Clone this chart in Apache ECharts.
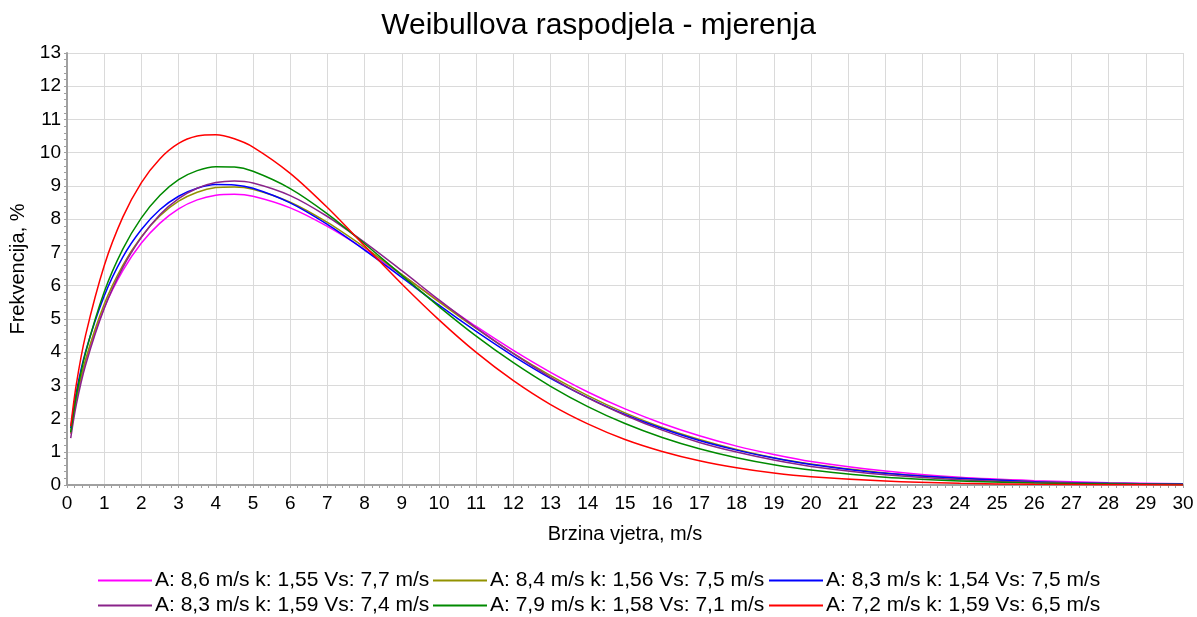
<!DOCTYPE html>
<html>
<head>
<meta charset="utf-8">
<title>Weibullova raspodjela - mjerenja</title>
<script src="https://cdn.jsdelivr.net/npm/echarts@6/dist/echarts.min.js"></script>
<style>
  html, body { margin: 0; padding: 0; background: #fff; }
  #chart { width: 1197px; height: 617px; }
</style>
</head>
<body>
<div id="chart"></div>
<script>
// Wind speed sample points (m/s)
const speeds = [0.1, 0.25, 0.5, 1, 1.5, 2, 2.5, 3, 3.5, 4, 4.5, 5, 6, 7, 8, 9, 10, 11, 12, 13, 14, 15, 16, 17, 18, 19, 20, 22, 24, 26, 28, 30];

// Frequency (%) for each measurement set
const magentaSet = [1.55, 2.56, 3.72, 5.33, 6.45, 7.28, 7.88, 8.31, 8.58, 8.72, 8.75, 8.69, 8.34, 7.78, 7.09, 6.32, 5.54, 4.77, 4.05, 3.39, 2.80, 2.29, 1.85, 1.48, 1.17, 0.92, 0.71, 0.42, 0.23, 0.13, 0.07, 0.035];
const oliveSet   = [1.55, 2.58, 3.78, 5.44, 6.61, 7.47, 8.10, 8.54, 8.81, 8.95, 8.97, 8.90, 8.51, 7.90, 7.15, 6.34, 5.51, 4.71, 3.96, 3.29, 2.69, 2.17, 1.73, 1.37, 1.07, 0.82, 0.63, 0.36, 0.20, 0.10, 0.05, 0.026];
const blueSet    = [1.71, 2.79, 4.02, 5.69, 6.86, 7.69, 8.29, 8.69, 8.93, 9.04, 9.03, 8.93, 8.49, 7.84, 7.07, 6.25, 5.41, 4.62, 3.88, 3.21, 2.63, 2.12, 1.70, 1.34, 1.05, 0.81, 0.62, 0.35, 0.20, 0.10, 0.05, 0.027];
const purpleSet  = [1.41, 2.42, 3.61, 5.31, 6.54, 7.45, 8.14, 8.62, 8.93, 9.10, 9.15, 9.09, 8.71, 8.08, 7.30, 6.45, 5.57, 4.73, 3.95, 3.24, 2.62, 2.10, 1.65, 1.28, 0.99, 0.75, 0.56, 0.31, 0.16, 0.08, 0.04, 0.018];
const greenSet   = [1.59, 2.69, 3.98, 5.81, 7.10, 8.04, 8.72, 9.19, 9.46, 9.58, 9.57, 9.44, 8.92, 8.16, 7.26, 6.31, 5.37, 4.48, 3.68, 2.97, 2.36, 1.85, 1.43, 1.09, 0.82, 0.61, 0.45, 0.23, 0.12, 0.06, 0.03, 0.012];
const redSet     = [1.77, 3.03, 4.51, 6.60, 8.06, 9.10, 9.82, 10.28, 10.50, 10.54, 10.42, 10.17, 9.38, 8.35, 7.20, 6.05, 4.97, 3.99, 3.14, 2.42, 1.84, 1.37, 1.01, 0.73, 0.52, 0.36, 0.25, 0.12, 0.05, 0.02, 0.009, 0.003];

// Legend captions: scale A, shape k, mean speed Vs
const setNames = [
  'A: 8,6 m/s k: 1,55 Vs: 7,7 m/s',
  'A: 8,4 m/s k: 1,56 Vs: 7,5 m/s',
  'A: 8,3 m/s k: 1,54 Vs: 7,5 m/s',
  'A: 8,3 m/s k: 1,59 Vs: 7,4 m/s',
  'A: 7,9 m/s k: 1,58 Vs: 7,1 m/s',
  'A: 7,2 m/s k: 1,59 Vs: 6,5 m/s'
];
const setValues = [magentaSet, oliveSet, blueSet, purpleSet, greenSet, redSet];
const setColors = ['#ff00ff', '#929200', '#0000ff', '#8a238a', '#008a00', '#ff0000'];

const FONT = '"Liberation Sans", Arial, sans-serif';

const series = setValues.map((vals, i) => ({
  name: setNames[i],
  type: 'line',
  data: speeds.map((s, j) => [s, vals[j]]),
  smooth: 0.3,
  symbol: 'none',
  lineStyle: { color: setColors[i], width: 1.5 },
  itemStyle: { color: setColors[i] },
  z: 2 + i
}));

// Legend laid out as three columns of two entries
const legendColumns = [[0, 3], [1, 4], [2, 5]];
const legendLeft = [98, 433, 769];
const legends = legendColumns.map((idx, c) => ({
  orient: 'vertical',
  left: legendLeft[c],
  top: 570,
  icon: 'rect',
  itemWidth: 54,
  itemHeight: 2,
  itemGap: 4,
  padding: 0,
  selectedMode: false,
  data: idx.map(i => setNames[i]),
  textStyle: { fontFamily: FONT, fontSize: 21, color: '#000', padding: [0, 0, 0, -2] }
}));

const chart = echarts.init(document.getElementById('chart'), null, { renderer: 'canvas' });
chart.setOption({
  animation: false,
  backgroundColor: '#ffffff',
  title: {
    text: 'Weibullova raspodjela - mjerenja',
    left: 'center',
    top: 6,
    textStyle: { fontFamily: FONT, fontSize: 30, fontWeight: 'normal', color: '#000' }
  },
  legend: legends,
  grid: { left: 67, right: 14, top: 53, bottom: 132, containLabel: false },
  xAxis: {
    type: 'value',
    min: 0, max: 30, interval: 1,
    name: 'Brzina vjetra, m/s',
    nameLocation: 'middle',
    nameGap: 39,
    nameTextStyle: { fontFamily: FONT, fontSize: 20, color: '#000' },
    axisLine: { show: true, onZero: false, lineStyle: { color: '#a0a0a0', width: 2 } },
    axisTick: { show: true, length: 3, lineStyle: { color: '#a0a0a0' } },
    minorTick: { show: true, splitNumber: 5, length: 3, lineStyle: { color: '#a0a0a0' } },
    splitLine: { show: true, lineStyle: { color: '#dadada', width: 1 } },
    axisLabel: { fontFamily: FONT, fontSize: 19, color: '#000', margin: 9 }
  },
  yAxis: {
    type: 'value',
    min: 0, max: 13, interval: 1,
    name: 'Frekvencija, %',
    nameLocation: 'middle',
    nameGap: 37,
    nameTextStyle: { fontFamily: FONT, fontSize: 20, color: '#000' },
    axisLine: { show: true, onZero: false, lineStyle: { color: '#a0a0a0', width: 2 } },
    axisTick: { show: true, length: 3, lineStyle: { color: '#a0a0a0' } },
    minorTick: { show: true, splitNumber: 5, length: 3, lineStyle: { color: '#a0a0a0' } },
    splitLine: { show: true, lineStyle: { color: '#dadada', width: 1 } },
    axisLabel: { fontFamily: FONT, fontSize: 19, color: '#000', margin: 6 }
  },
  series: series
});
</script>
</body>
</html>
